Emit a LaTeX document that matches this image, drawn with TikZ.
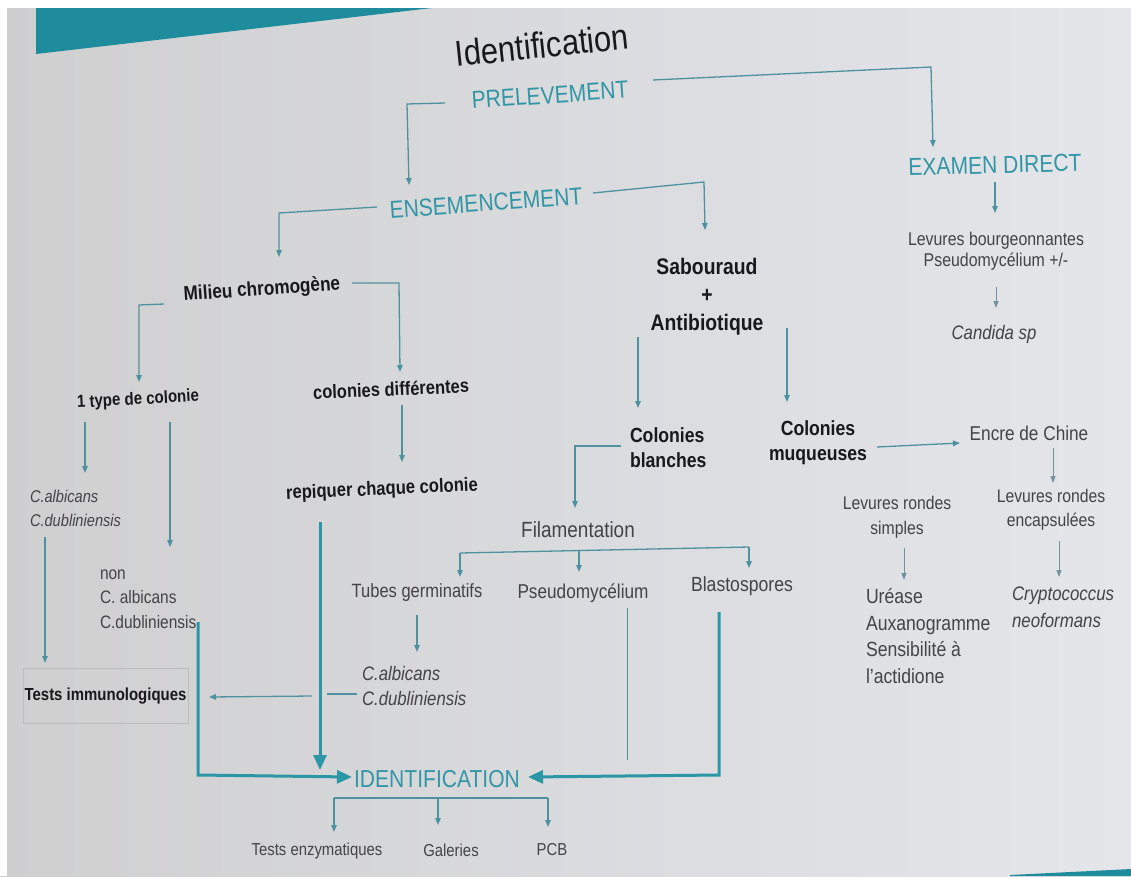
\documentclass[tikz,border=0pt]{standalone}
\usepackage{fontspec}
\setmainfont{Liberation Sans}[FakeStretch=0.86]
\usetikzlibrary{arrows.meta}
\definecolor{bga}{RGB}{207,207,208}
\definecolor{bgb}{RGB}{228,230,234}
\definecolor{tealtx}{RGB}{50,150,166}
\definecolor{band}{RGB}{30,140,156}
\definecolor{lin}{RGB}{78,146,160}
\definecolor{lingr}{RGB}{115,145,158}
\definecolor{thk}{RGB}{42,150,166}
\definecolor{ink}{RGB}{25,25,27}
\definecolor{greyink}{RGB}{68,68,72}
\definecolor{boxc}{RGB}{188,188,190}
\newcommand\sz[2]{\fontsize{#1pt}{#2pt}\selectfont}
\begin{document}
\begin{tikzpicture}[x=1pt,y=-1pt,
  txt/.style={inner sep=0pt,outer sep=0pt},
  head/.style={txt,text=tealtx,font=\sz{24.5}{28}},
  blk/.style={txt,text=ink},
  gry/.style={txt,text=greyink},
  arr/.style={draw=lin,line width=1.3pt,-{Triangle[width=5.5pt,length=7pt]}},
  arrg/.style={draw=lingr,line width=1pt,-{Triangle[width=5pt,length=7pt]}},
  ln/.style={draw=lin,line width=1.3pt},
  thick arrow/.style={draw=thk,line width=3pt,-{Triangle[width=13pt,length=15pt]}},
  thick line/.style={draw=thk,line width=3pt}]
\useasboundingbox (0,0) rectangle (1131,876);
% background
\shade[left color=bga,right color=bgb] (0,0) rectangle (1131,876);
\fill[white] (0,0) rectangle (1131,8);
\fill[white] (0,0) rectangle (7,876);
\fill[band] (36,8) -- (432,8) -- (36,54) -- cycle;
\fill[band] (1010,875) -- (1131,869) -- (1131,876) -- (1010,876) -- cycle;

% nodes
\node[txt,text=ink,font=\sz{36}{40},rotate=6] (title) at (542,45) {Identification};
\node[head,rotate=4] (prel) at (550,95) {PRELEVEMENT};
\node[head,rotate=4] (ens) at (486,203) {ENSEMENCEMENT};
\node[head,rotate=1.5] (exam) at (995,165) {EXAMEN DIRECT};
\node[gry,align=center,font=\sz{18.5}{21}] (lev) at (996,251) {Levures bourgeonnantes\\Pseudomycélium +/-};
\node[gry,font=\itshape\sz{19.5}{22}] (cand) at (994,334) {Candida sp};
\node[blk,align=center,font=\bfseries\sz{22.5}{28}] (sab) at (707,297) {Sabouraud\\+\\Antibiotique};
\node[blk,font=\bfseries\sz{20}{24},rotate=4] (mil) at (262,290) {Milieu chromogène};
\node[blk,font=\bfseries\sz{17.5}{21},rotate=3] (one) at (138,400) {1 type de colonie};
\node[blk,font=\bfseries\sz{19.2}{23},rotate=2.5] (cdif) at (391,389) {colonies différentes};
\node[blk,font=\bfseries\sz{19.3}{23},rotate=2.5] (rep) at (382,490) {repiquer chaque colonie};
\node[gry,align=left,anchor=west,font=\itshape\sz{17}{24}] (calL) at (30,508) {C.albicans\\C.dubliniensis};
\node[gry,align=left,anchor=west,font=\sz{18}{24.5}] (non) at (100,599) {non\\C. albicans\\C.dubliniensis};
\node[draw=boxc,line width=0.7pt,minimum width=165pt,minimum height=55pt,inner sep=0pt,text=ink,font=\bfseries\sz{17.4}{20}] (timm) at (105.5,696) {Tests immunologiques};
\node[gry,font=\sz{19.2}{22}] (tub) at (417,593) {Tubes germinatifs};
\node[gry,align=left,anchor=west,font=\itshape\sz{19.5}{25}] (calM) at (362,686) {C.albicans\\C.dubliniensis};
\node[gry,font=\sz{20}{24}] (pseu) at (583,593) {Pseudomycélium};
\node[gry,font=\sz{20.5}{24}] (blas) at (742,586) {Blastospores};
\node[gry,font=\sz{22}{26}] (fil) at (578,530) {Filamentation};
\node[blk,align=left,anchor=west,font=\bfseries\sz{20.5}{25}] (cbl) at (630,448) {Colonies\\blanches};
\node[blk,align=center,font=\bfseries\sz{20.5}{25}] (cmq) at (818,443) {Colonies\\muqueuses};
\node[gry,font=\sz{20}{24}] (encre) at (1029,433) {Encre de Chine};
\node[gry,align=center,font=\sz{18.3}{24}] (lenc) at (1051,510) {Levures rondes\\encapsulées};
\node[gry,align=center,font=\sz{18.3}{25}] (lsim) at (897,517) {Levures rondes\\simples};
\node[gry,align=left,anchor=west,font=\sz{20.5}{26.5}] (ure) at (866,636) {Uréase\\Auxanogramme\\Sensibilité à\\l'actidione};
\node[gry,align=left,anchor=west,font=\itshape\sz{19.6}{27}] (cry) at (1012,607) {Cryptococcus\\neoformans};
\node[head] (ident) at (437,779) {IDENTIFICATION};
\node[gry,font=\sz{17.3}{20}] (tenz) at (317,851) {Tests enzymatiques};
\node[gry,font=\sz{17.3}{20}] (gal) at (451,850) {Galeries};
\node[gry,font=\sz{17.3}{20}] (pcb) at (552,850) {PCB};

% connector coordinates
\coordinate (pL1) at (445,103); \coordinate (pL2) at (407,104); \coordinate (pL3) at (409,185);
\coordinate (pR1) at (653,80);  \coordinate (pR2) at (931,67);  \coordinate (pR3) at (933,147);
\coordinate (eL1) at (377,207); \coordinate (eL2) at (279,213); \coordinate (eL3) at (279,257);
\coordinate (eR1) at (593,193); \coordinate (eR2) at (704,182); \coordinate (eR3) at (705,230);
\coordinate (x1) at (995,182);  \coordinate (x2) at (995,213);
\coordinate (lv1) at (996,287); \coordinate (lv2) at (996,308);
\coordinate (mR1) at (352,283); \coordinate (mR2) at (399,283); \coordinate (mR3) at (400,372);
\coordinate (mL1) at (164,304); \coordinate (mL2) at (139,305); \coordinate (mL3) at (139,382);
\coordinate (o1a) at (85,422);  \coordinate (o1b) at (85,473);
\coordinate (o2a) at (170,422); \coordinate (o2b) at (170,547);
\coordinate (ca1) at (45,537);  \coordinate (ca2) at (45,663);
\coordinate (cd1) at (402,405); \coordinate (cd2) at (402,462);
\coordinate (r1) at (320,522);  \coordinate (r2) at (320,770);
\coordinate (n1) at (198,622);  \coordinate (n2) at (198,775);  \coordinate (n3) at (352,777);
\coordinate (b1) at (719,612);  \coordinate (b2) at (719,775);  \coordinate (b3) at (528,777);
\coordinate (ps1) at (627,608); \coordinate (ps2) at (627,760);
\coordinate (t1) at (417,615);  \coordinate (t2) at (417,652);
\coordinate (h1) at (357,694);  \coordinate (h2) at (327,694);
\coordinate (h3) at (312,696);  \coordinate (h4) at (209,697);
\coordinate (ab1) at (638,337); \coordinate (ab2) at (638,408);
\coordinate (am1) at (787,328); \coordinate (am2) at (787,402);
\coordinate (cb1) at (621,446); \coordinate (cb2) at (575,446); \coordinate (cb3) at (575,508);
\coordinate (fl) at (460,553);  \coordinate (fm) at (579,550);  \coordinate (fr) at (749,547);
\coordinate (flb) at (460,577); \coordinate (fmb) at (579,572); \coordinate (frb) at (749,568);
\coordinate (cm1) at (877,447); \coordinate (cm2) at (960,443);
\coordinate (en1) at (1053,448); \coordinate (en2) at (1053,483);
\coordinate (ls1) at (904,548); \coordinate (ls2) at (904,580);
\coordinate (le1) at (1059,541); \coordinate (le2) at (1059,577);
\coordinate (il) at (334,798);  \coordinate (im) at (438,798);  \coordinate (ir) at (548,798);
\coordinate (ilb) at (334,832); \coordinate (imb) at (438,825); \coordinate (irb) at (548,827);

% connectors
\draw[arr] (pL1) -- (pL2) -- (pL3);
\draw[arr] (pR1) -- (pR2) -- (pR3);
\draw[arr] (eL1) -- (eL2) -- (eL3);
\draw[arr] (eR1) -- (eR2) -- (eR3);
\draw[arr] (x1) -- (x2);
\draw[arrg] (lv1) -- (lv2);
\draw[arr] (mR1) -- (mR2) -- (mR3);
\draw[arr] (mL1) -- (mL2) -- (mL3);
\draw[arr] (o1a) -- (o1b);
\draw[arr] (o2a) -- (o2b);
\draw[arr] (ca1) -- (ca2);
\draw[arr] (cd1) -- (cd2);
\draw[thick arrow] (r1) -- (r2);
\draw[thick arrow] (n1) -- (n2) -- (n3);
\draw[thick arrow] (b1) -- (b2) -- (b3);
\draw[ln,line width=1pt] (ps1) -- (ps2);
\draw[arr] (t1) -- (t2);
\draw[ln] (h1) -- (h2);
\draw[arr] (h3) -- (h4);
\draw[arr] (ab1) -- (ab2);
\draw[arr] (am1) -- (am2);
\draw[arr] (cb1) -- (cb2) -- (cb3);
\draw[ln] (fl) -- (fr);
\draw[arr] (fl) -- (flb);
\draw[arr] (fm) -- (fmb);
\draw[arr] (fr) -- (frb);
\draw[arr] (cm1) -- (cm2);
\draw[arrg] (en1) -- (en2);
\draw[arrg] (ls1) -- (ls2);
\draw[arrg] (le1) -- (le2);
\draw[ln] (il) -- (ir);
\draw[arr] (il) -- (ilb);
\draw[arr] (im) -- (imb);
\draw[arr] (ir) -- (irb);
\end{tikzpicture}
\end{document}
